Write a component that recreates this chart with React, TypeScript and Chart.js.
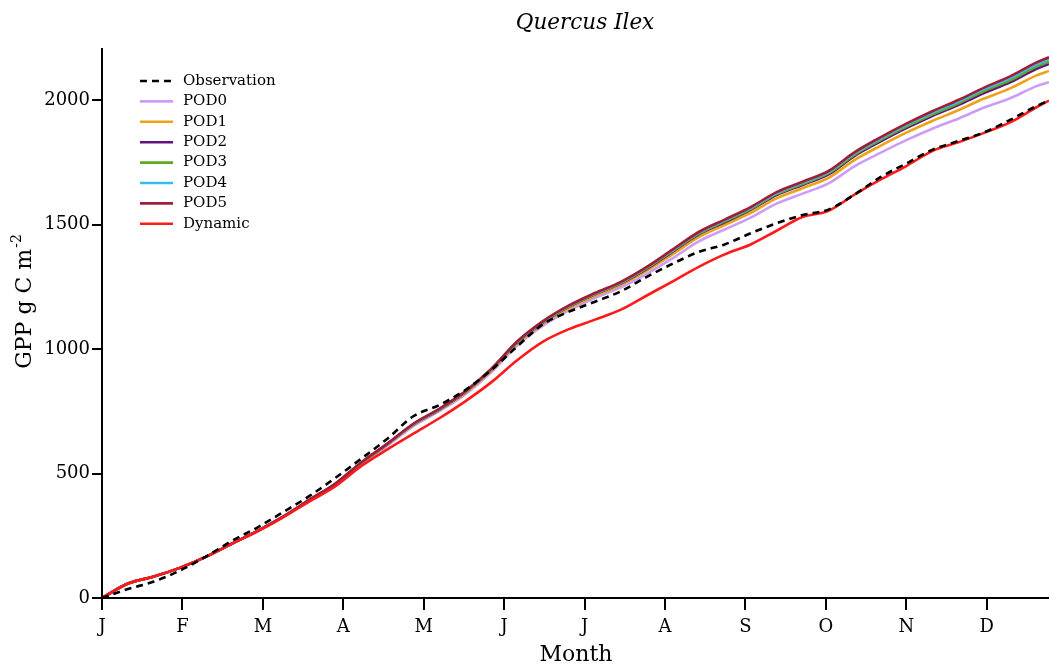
import React, { useEffect, useRef } from 'react';
import { Chart, registerables } from 'chart.js';

Chart.register(...registerables);

const FONT = '"DejaVu Serif", "Liberation Serif", serif';

const TITLE = 'Quercus Ilex';
const X_LABEL = 'Month';
const Y_LABEL_MAIN = 'GPP g C m';
const Y_LABEL_SUP = '-2';

const days = [0, 10, 20, 30, 40, 50, 60, 70, 80, 90, 100, 110, 120, 130, 140, 150, 160, 170, 180, 190, 200, 210, 220, 230, 240, 250, 260, 270, 280, 290, 300, 310, 320, 330, 340, 350, 360, 365];
const monthTickDays = [0, 31, 62, 93, 124, 155, 186, 217, 248, 279, 310, 341];
const monthLabels = ['J', 'F', 'M', 'A', 'M', 'J', 'J', 'A', 'S', 'O', 'N', 'D'];
const yTicks = [0, 500, 1000, 1500, 2000];

const observation = [0, 36, 66, 110, 166, 229, 284, 346, 410, 483, 560, 640, 730, 775, 835, 915, 1010, 1100, 1150, 1190, 1232, 1290, 1343, 1390, 1420, 1465, 1505, 1538, 1560, 1620, 1690, 1745, 1800, 1835, 1870, 1920, 1975, 1998];
const pod0 = [0, 58, 86, 121, 165, 218, 270, 328, 392, 455, 537, 612, 690, 750, 818, 906, 1014, 1094, 1155, 1205, 1248, 1302, 1365, 1432, 1480, 1528, 1584, 1624, 1665, 1734, 1788, 1839, 1885, 1925, 1970, 2007, 2055, 2072];
const pod1 = [0, 58, 86, 121, 165, 218, 270, 328, 393, 457, 541, 616, 695, 755, 823, 912, 1021, 1102, 1164, 1214, 1258, 1315, 1381, 1449, 1498, 1547, 1605, 1646, 1687, 1759, 1816, 1869, 1916, 1959, 2006, 2047, 2098, 2117];
const pod2 = [0, 58, 86, 121, 165, 218, 270, 328, 394, 459, 543, 618, 697, 757, 827, 916, 1026, 1107, 1170, 1220, 1264, 1322, 1391, 1460, 1509, 1559, 1618, 1659, 1701, 1775, 1833, 1887, 1936, 1980, 2028, 2071, 2124, 2145];
const pod3 = [0, 58, 86, 121, 165, 218, 270, 328, 394, 459, 544, 619, 698, 758, 828, 917, 1027, 1109, 1171, 1221, 1266, 1325, 1394, 1463, 1513, 1562, 1622, 1663, 1706, 1780, 1839, 1893, 1942, 1986, 2036, 2079, 2133, 2154];
const pod4 = [0, 58, 86, 121, 165, 218, 270, 328, 395, 460, 544, 619, 699, 759, 829, 919, 1029, 1111, 1173, 1223, 1268, 1328, 1397, 1467, 1517, 1567, 1626, 1668, 1711, 1786, 1845, 1900, 1949, 1994, 2044, 2088, 2142, 2164];
const pod5 = [0, 58, 86, 121, 165, 218, 270, 328, 395, 460, 545, 620, 700, 760, 830, 920, 1030, 1112, 1175, 1225, 1270, 1330, 1400, 1470, 1520, 1570, 1630, 1672, 1715, 1790, 1850, 1905, 1955, 2000, 2050, 2095, 2150, 2172];
const dynamic = [0, 58, 86, 121, 165, 218, 268, 325, 388, 449, 530, 597, 660, 722, 790, 866, 955, 1030, 1080, 1118, 1158, 1215, 1272, 1330, 1380, 1420, 1475, 1530, 1555, 1620, 1680, 1735, 1795, 1830, 1868, 1910, 1970, 1998];

const seriesNames = ['Observation', 'POD0', 'POD1', 'POD2', 'POD3', 'POD4', 'POD5', 'Dynamic'];
const seriesValues = [observation, pod0, pod1, pod2, pod3, pod4, pod5, dynamic];
const seriesColors = ['#000000', '#cc9cf7', '#eea21a', '#5f137e', '#5fa81e', '#3bb9f2', '#a11d36', '#ff1a1a'];
const seriesDash = [[7, 5], [], [], [], [], [], [], []];
const seriesOrder = [0, 7, 6, 5, 4, 3, 2, 1];

const decorPlugin = {
  id: 'decor',
  afterDraw(chart: any) {
    const ctx = chart.ctx as CanvasRenderingContext2D;
    ctx.save();
    ctx.fillStyle = '#000';
    ctx.textAlign = 'center';
    ctx.textBaseline = 'middle';
    ctx.font = `italic 21.5px ${FONT}`;
    ctx.fillText(TITLE, 585, 23);
    ctx.font = `22px ${FONT}`;
    ctx.fillText(X_LABEL, 576, 655);

    // y label
    ctx.save();
    ctx.translate(25, 302);
    ctx.rotate(-Math.PI / 2);
    ctx.font = `22px ${FONT}`;
    const w1 = ctx.measureText(Y_LABEL_MAIN).width;
    ctx.font = `14px ${FONT}`;
    const w2 = ctx.measureText(Y_LABEL_SUP).width;
    const start = -(w1 + w2) / 2;
    ctx.textAlign = 'left';
    ctx.font = `22px ${FONT}`;
    ctx.fillText(Y_LABEL_MAIN, start, 0);
    ctx.font = `14px ${FONT}`;
    ctx.fillText(Y_LABEL_SUP, start + w1 + 1, -8);
    ctx.restore();

    // legend
    const ds = chart.data.datasets;
    ds.forEach((d: any, i: number) => {
      const y = 81 + i * 20.4;
      ctx.save();
      ctx.strokeStyle = d.borderColor;
      ctx.lineWidth = d.borderWidth;
      ctx.setLineDash(d.borderDash || []);
      ctx.beginPath();
      ctx.moveTo(140, y);
      ctx.lineTo(173, y);
      ctx.stroke();
      ctx.restore();
      ctx.fillStyle = '#000';
      ctx.textAlign = 'left';
      ctx.textBaseline = 'middle';
      ctx.font = `15px ${FONT}`;
      ctx.fillText(d.label, 183, y);
    });
    ctx.restore();
  },
};

export default function App() {
  const ref = useRef<HTMLCanvasElement>(null);
  useEffect(() => {
    document.body.style.margin = '0';
    document.body.style.overflow = 'hidden';
    const canvas = ref.current!;
    const datasets = seriesNames.map((name, i) => ({
      label: name,
      data: days.map((d, k) => ({ x: d, y: seriesValues[i][k] })),
      borderColor: seriesColors[i],
      backgroundColor: seriesColors[i],
      borderWidth: 2.6,
      borderDash: seriesDash[i],
      order: seriesOrder[i],
      pointRadius: 0,
      fill: false,
      cubicInterpolationMode: 'monotone' as const,
    }));
    const chart = new Chart(canvas, {
      type: 'line',
      data: { datasets },
      plugins: [decorPlugin],
      options: {
        responsive: false,
        animation: false,
        devicePixelRatio: 1,
        layout: { padding: { left: 10, right: 0, top: 49, bottom: 10 } },
        plugins: {
          legend: { display: false },
          title: { display: false },
          tooltip: { enabled: false },
        },
        scales: {
          x: {
            type: 'linear',
            min: 0,
            max: 365,
            afterBuildTicks: (s: any) => {
              s.ticks = monthTickDays.map((v) => ({ value: v }));
            },
            afterFit: (s: any) => {
              s.height = 60;
            },
            ticks: {
              callback: (_v: any, i: number) => monthLabels[i],
              font: { family: FONT, size: 18 },
              color: '#000',
              padding: 7,
              maxRotation: 0,
              autoSkip: false,
            },
            grid: { drawOnChartArea: false, drawTicks: true, tickLength: 12, color: '#000', lineWidth: 2 },
            border: { display: true, color: '#000', width: 2 },
          },
          y: {
            type: 'linear',
            min: 0,
            max: 2205,
            afterBuildTicks: (s: any) => {
              s.ticks = yTicks.map((v) => ({ value: v }));
            },
            afterFit: (s: any) => {
              s.width = 92;
            },
            ticks: {
              callback: (v: any) => String(v),
              font: { family: FONT, size: 18 },
              color: '#000',
              padding: 2,
            },
            grid: { drawOnChartArea: false, drawTicks: true, tickLength: 10, color: '#000', lineWidth: 2 },
            border: { display: true, color: '#000', width: 2 },
          },
        },
      },
    });
    return () => chart.destroy();
  }, []);
  return (
    <div style={{ width: 1049, height: 668, background: '#fff' }}>
      <canvas ref={ref} width={1049} height={668} style={{ display: 'block' }} />
    </div>
  );
}
